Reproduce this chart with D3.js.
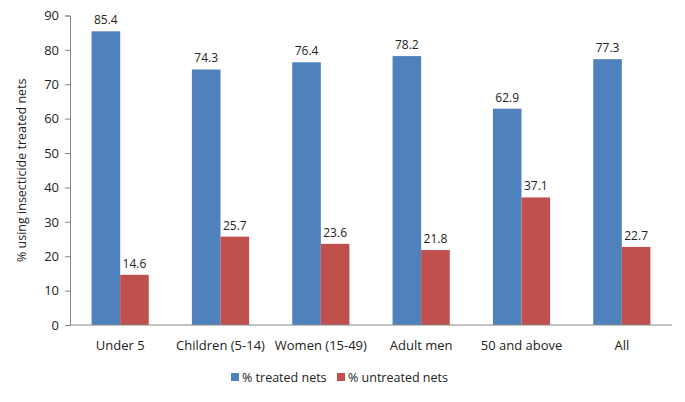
<!DOCTYPE html>
<html><head><meta charset="utf-8">
<script src="https://cdn.jsdelivr.net/npm/d3@7"></script>
<style>body{margin:0;background:#fff}svg{display:block}text{font-family:"Open Sans","Noto Sans",sans-serif;fill:#222}</style>
</head><body><svg id="c" width="685" height="402"></svg>
<script>
const categories = ["Under 5","Children (5-14)","Women (15-49)","Adult men","50 and above","All"];
const treated = [85.4,74.3,76.4,78.2,62.9,77.3];
const untreated = [14.6,25.7,23.6,21.8,37.1,22.7];
const seriesNames = ["% treated nets","% untreated nets"];
const colors = ["#4F81BD","#C0504D"];
const yTicks = [0,10,20,30,40,50,60,70,80,90];

const svg = d3.select("#c");
const m = {l:70, r:13, t:15.5, b:77};
const W = 685, H = 402;
const x = d3.scaleBand().domain(categories).range([m.l, W-m.r]).paddingInner(0.43).paddingOuter(0.215);
const xs = d3.scaleBand().domain([0,1]).range([0, x.bandwidth()]);
const y = d3.scaleLinear().domain([0,90]).range([H-m.b, m.t]);

const data = categories.map((c,i)=>({c, v:[treated[i], untreated[i]]}));

// y axis
const ya = svg.append("g").attr("transform",`translate(${m.l},0)`)
  .call(d3.axisLeft(y).tickValues(yTicks).tickSize(5).tickPadding(6));
ya.select(".domain").attr("stroke","#868686");
ya.selectAll(".tick line").attr("stroke","#868686");
ya.selectAll(".tick text").style("font-size","13px").attr("fill","#222");

// bars
const g = svg.append("g");
data.forEach(d=>{
  d.v.forEach((v,j)=>{
    g.append("rect").attr("x", x(d.c)+xs(j)).attr("width", xs.bandwidth())
      .attr("y", y(v)).attr("height", y(0)-y(v)).attr("fill", colors[j]);
    g.append("text").attr("x", x(d.c)+xs(j)+xs.bandwidth()/2).attr("y", y(v)-7)
      .attr("text-anchor","middle").style("font-size","12px").text(v.toFixed(1));
  });
});

// x axis
const xa = svg.append("g").attr("transform",`translate(0,${y(0)})`)
  .call(d3.axisBottom(d3.scaleBand().domain(categories).range([m.l, W-m.r])).tickSize(0).tickPadding(16));
xa.select(".domain").attr("stroke","#868686").attr("d",`M${m.l},0H${W-m.r}`);
xa.selectAll(".tick text").style("font-size","13px").attr("fill","#222");

// y title
svg.append("text").attr("transform",`translate(26,${(y(0)+y(90))/2}) rotate(-90)`)
  .attr("text-anchor","middle").style("font-size","12.5px").text("% using insecticide treated nets");

// legend
const leg = svg.append("g");
const lx = [231, 337];
seriesNames.forEach((n,i)=>{
  leg.append("rect").attr("x", lx[i]).attr("y", 373).attr("width",8).attr("height",8).attr("fill",colors[i]);
  leg.append("text").attr("x", lx[i]+11).attr("y", 382).style("font-size","12.5px").text(n);
});
</script></body></html>
